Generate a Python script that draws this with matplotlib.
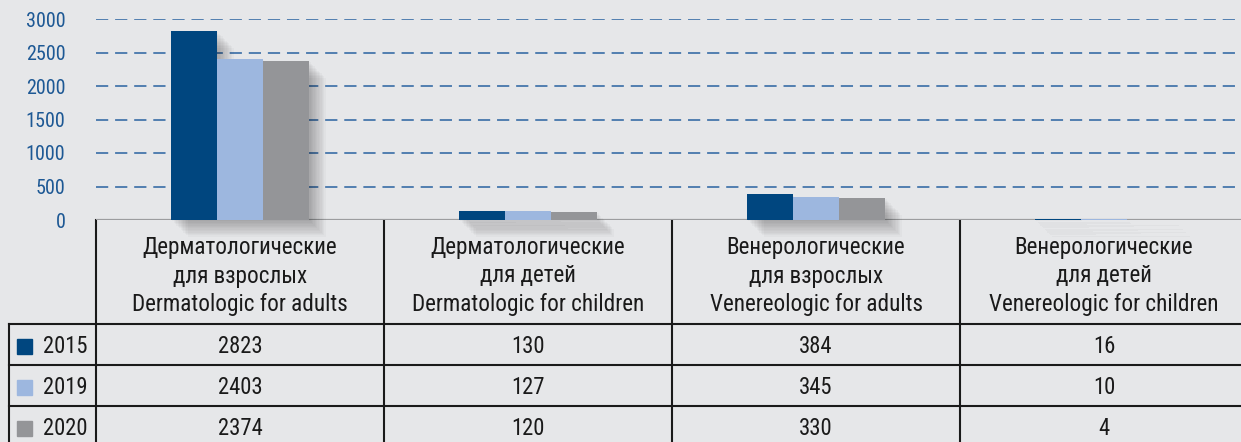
import numpy as np
import matplotlib.pyplot as plt
import matplotlib.patheffects as pe

plt.rcParams['font.family'] = ['Roboto Condensed', 'Liberation Sans Narrow', 'DejaVu Sans']

# Data
categories = [
    "Дерматологические\nдля взрослых\nDermatologic for adults",
    "Дерматологические\nдля детей\nDermatologic for children",
    "Венерологические\nдля взрослых\nVenereologic for adults",
    "Венерологические\nдля детей\nVenereologic for children",
]
years = ["2015", "2019", "2020"]
values_2015 = [2823, 130, 384, 16]
values_2019 = [2403, 127, 345, 10]
values_2020 = [2374, 120, 330, 4]
series = [values_2015, values_2019, values_2020]
colors = ["#00467f", "#9db7df", "#949598"]
yticks = [0, 500, 1000, 1500, 2000, 2500, 3000]

bg = "#e6e7e9"
W, H = 1241, 442
fig = plt.figure(figsize=(W / 100, H / 100), dpi=100, facecolor=bg)

# layout in pixels
x0 = 96        # left of plot / first table column
cw = 288       # category column width
y_base = 220   # pixel row of value 0
y_top = 19     # pixel row of value 3000
row_h = 41
head_bot = 324

ax = fig.add_axes([x0 / W, (H - y_base) / H, cw * 4 / W, (y_base - y_top) / H])
ax.set_facecolor(bg)
ax.set_xlim(0, 4)
ax.set_ylim(0, 3000)
for s in ax.spines.values():
    s.set_visible(False)
ax.set_xticks([])
ax.set_yticks(yticks)
ax.tick_params(axis="y", length=0, pad=22, labelsize=14.5, labelcolor="#1d5894")
for t in yticks[1:]:
    ax.axhline(t, color="#2a62a0", lw=1.1, ls=(0, (8, 4.5)), zorder=1)
ax.axhline(0, color="#9c9d9f", lw=1.6, zorder=1)

bw = 0.16
x = np.arange(len(categories)) + 0.5
shadow = [pe.SimplePatchShadow(offset=(k, -k), shadow_rgbFace="k", alpha=0.025)
          for k in range(1, 13)] + [pe.Normal()]
for i, vals in enumerate(series):
    bars = ax.bar(x + (i - 1) * bw, vals, width=bw, color=colors[i], zorder=3 + i,
                  clip_on=False)
    for b in bars:
        b.set_path_effects(shadow)

# table drawn in pixel coordinates
tab = fig.add_axes([0, 0, 1, 1], zorder=-1)
tab.set_xlim(0, W)
tab.set_ylim(H, 0)
tab.axis("off")
tab.patch.set_alpha(0)

lc = "#1a1a1a"
fs = 16.3
# vertical lines of category columns
for i in range(len(categories) + 1):
    xx = x0 + i * cw
    tab.plot([xx, xx], [y_base, H + 5], color=lc, lw=1.5)
# row label column
tab.plot([9, 9], [head_bot, H + 5], color=lc, lw=1.5)
for r in range(len(years)):
    yy = head_bot + r * row_h
    tab.plot([9, W + 10], [yy, yy], color=lc, lw=1.5)

# header labels
for i, c in enumerate(categories):
    tab.text(x0 + (i + 0.5) * cw, 276, c, ha="center", va="center",
             fontsize=fs + 0.4, color=lc, linespacing=1.3)

# rows
for r, (yr, vals) in enumerate(zip(years, series)):
    yc = head_bot + r * row_h + row_h / 2 + 2
    tab.add_patch(plt.Rectangle((17, yc - 7.5), 15, 15, color=colors[r]))
    tab.text(43, yc, yr, ha="left", va="center", fontsize=fs, color=lc)
    for i, v in enumerate(vals):
        tab.text(x0 + (i + 0.5) * cw, yc, str(v), ha="center", va="center",
                 fontsize=fs, color=lc)

fig.savefig("out.png", dpi=100, facecolor=bg)
